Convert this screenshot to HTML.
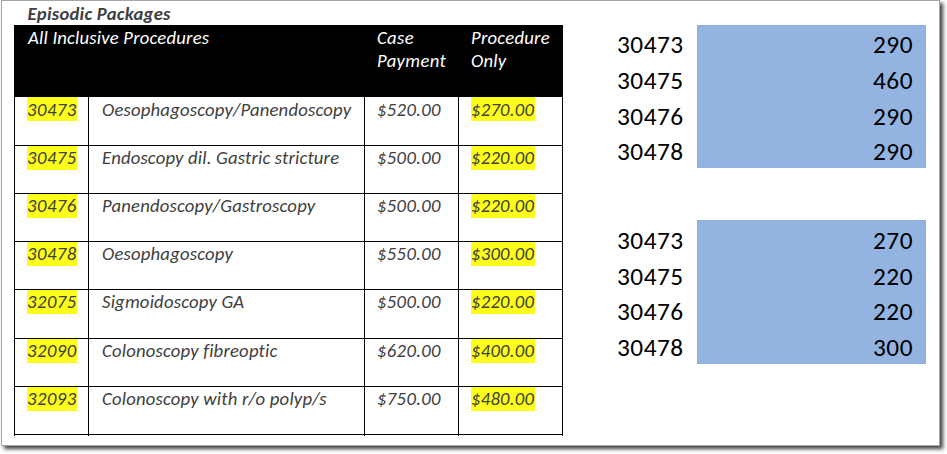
<!DOCTYPE html>
<html>
<head>
<meta charset="utf-8">
<style>
html,body{margin:0;padding:0;}
body{width:947px;height:454px;background:#fff;position:relative;overflow:hidden;font-family:Carlito,"Liberation Sans",sans-serif;font-variant-ligatures:none;}
.frame{position:absolute;left:1px;top:0;width:937px;height:444px;border:1px solid #a6a6a6;background:#fff;box-shadow:3px 3px 4px rgba(0,0,0,.75);}
.a{position:absolute;}
.t{position:absolute;white-space:nowrap;line-height:24px;height:24px;font-size:18.67px;font-style:italic;}
.w{color:#fff;}
.g{color:#404040;}
.hl{position:absolute;background:#fdfd1c;height:24px;}
.hr{position:absolute;left:14px;width:549px;height:1px;background:#000;}
.vr{position:absolute;top:97px;width:1px;height:339px;background:#000;}
.r{position:absolute;white-space:nowrap;font-size:25.33px;line-height:36px;height:36px;color:#000;letter-spacing:0.5px;}
.blue{position:absolute;left:697px;width:229px;background:#93b3e0;box-sizing:border-box;border:1px solid #8fb0de;}
</style>
</head>
<body>
<div class="frame"></div>

<!-- title -->
<div class="t" style="left:27.6px;top:2px;font-weight:bold;color:#404040;letter-spacing:0.25px">Episodic Packages</div>

<!-- header -->
<div class="a" style="left:14px;top:25px;width:549px;height:72px;background:#000"></div>
<div class="t w" style="left:28px;top:26px;letter-spacing:0.2px">All Inclusive Procedures</div>
<div class="t w" style="left:377px;top:26px;letter-spacing:0.35px">Case</div>
<div class="t w" style="left:377px;top:49px;letter-spacing:0.35px">Payment</div>
<div class="t w" style="left:471px;top:26px;letter-spacing:0.25px">Procedure</div>
<div class="t w" style="left:471px;top:49px;letter-spacing:0.25px">Only</div>

<!-- grid lines -->
<div class="hr" style="top:145px"></div>
<div class="hr" style="top:193px"></div>
<div class="hr" style="top:241px"></div>
<div class="hr" style="top:289px"></div>
<div class="hr" style="top:338px"></div>
<div class="hr" style="top:386px"></div>
<div class="hr" style="top:434px"></div>
<div class="vr" style="left:14px"></div>
<div class="vr" style="left:88px"></div>
<div class="vr" style="left:364px"></div>
<div class="vr" style="left:458px"></div>
<div class="vr" style="left:562px"></div>

<!-- highlights -->
<div class="hl" style="left:27px;top:97px;width:50px"></div>
<div class="hl" style="left:471px;top:97px;width:64px"></div>
<div class="hl" style="left:27px;top:146px;width:50px"></div>
<div class="hl" style="left:471px;top:146px;width:64px"></div>
<div class="hl" style="left:27px;top:194px;width:50px"></div>
<div class="hl" style="left:471px;top:194px;width:64px"></div>
<div class="hl" style="left:27px;top:242px;width:50px"></div>
<div class="hl" style="left:471px;top:242px;width:64px"></div>
<div class="hl" style="left:27px;top:290px;width:50px"></div>
<div class="hl" style="left:471px;top:290px;width:64px"></div>
<div class="hl" style="left:27px;top:339px;width:50px"></div>
<div class="hl" style="left:471px;top:339px;width:64px"></div>
<div class="hl" style="left:27px;top:387px;width:50px"></div>
<div class="hl" style="left:471px;top:387px;width:64px"></div>

<!-- body text -->
<div class="t g" style="left:27px;top:98px;letter-spacing:0.5px">30473</div>
<div class="t g" style="left:102px;top:98px;letter-spacing:0.2px">Oesophagoscopy/Panendoscopy</div>
<div class="t g" style="left:377px;top:98px;letter-spacing:0.35px">$520.00</div>
<div class="t g" style="left:471px;top:98px;letter-spacing:0.25px">$270.00</div>

<div class="t g" style="left:27px;top:146px;letter-spacing:0.5px">30475</div>
<div class="t g" style="left:102px;top:146px;letter-spacing:0.18px">Endoscopy dil. Gastric stricture</div>
<div class="t g" style="left:377px;top:146px;letter-spacing:0.35px">$500.00</div>
<div class="t g" style="left:471px;top:146px;letter-spacing:0.25px">$220.00</div>

<div class="t g" style="left:27px;top:194px;letter-spacing:0.5px">30476</div>
<div class="t g" style="left:102px;top:194px;letter-spacing:0.2px">Panendoscopy/Gastroscopy</div>
<div class="t g" style="left:377px;top:194px;letter-spacing:0.35px">$500.00</div>
<div class="t g" style="left:471px;top:194px;letter-spacing:0.25px">$220.00</div>

<div class="t g" style="left:27px;top:242px;letter-spacing:0.5px">30478</div>
<div class="t g" style="left:102px;top:242px;letter-spacing:0.2px">Oesophagoscopy</div>
<div class="t g" style="left:377px;top:242px;letter-spacing:0.35px">$550.00</div>
<div class="t g" style="left:471px;top:242px;letter-spacing:0.25px">$300.00</div>

<div class="t g" style="left:27px;top:290px;letter-spacing:0.5px">32075</div>
<div class="t g" style="left:102px;top:290px;letter-spacing:0.2px">Sigmoidoscopy GA</div>
<div class="t g" style="left:377px;top:290px;letter-spacing:0.35px">$500.00</div>
<div class="t g" style="left:471px;top:290px;letter-spacing:0.25px">$220.00</div>

<div class="t g" style="left:27px;top:339px;letter-spacing:0.5px">32090</div>
<div class="t g" style="left:102px;top:339px;letter-spacing:0.2px">Colonoscopy fibreoptic</div>
<div class="t g" style="left:377px;top:339px;letter-spacing:0.35px">$620.00</div>
<div class="t g" style="left:471px;top:339px;letter-spacing:0.25px">$400.00</div>

<div class="t g" style="left:27px;top:387px;letter-spacing:0.5px">32093</div>
<div class="t g" style="left:102px;top:387px;letter-spacing:0.2px">Colonoscopy with r/o polyp/s</div>
<div class="t g" style="left:377px;top:387px;letter-spacing:0.35px">$750.00</div>
<div class="t g" style="left:471px;top:387px;letter-spacing:0.25px">$480.00</div>

<!-- right side -->
<div class="blue" style="top:25px;height:143px"></div>
<div class="blue" style="top:220px;height:144px"></div>

<div class="r" style="left:617px;top:27px">30473</div>
<div class="r" style="left:617px;top:63px">30475</div>
<div class="r" style="left:617px;top:99px">30476</div>
<div class="r" style="left:617px;top:134px">30478</div>
<div class="r" style="right:34px;top:27px">290</div>
<div class="r" style="right:34px;top:63px">460</div>
<div class="r" style="right:34px;top:99px">290</div>
<div class="r" style="right:34px;top:134px">290</div>

<div class="r" style="left:617px;top:223px">30473</div>
<div class="r" style="left:617px;top:259px">30475</div>
<div class="r" style="left:617px;top:294px">30476</div>
<div class="r" style="left:617px;top:330px">30478</div>
<div class="r" style="right:34px;top:223px">270</div>
<div class="r" style="right:34px;top:259px">220</div>
<div class="r" style="right:34px;top:294px">220</div>
<div class="r" style="right:34px;top:330px">300</div>
</body>
</html>
